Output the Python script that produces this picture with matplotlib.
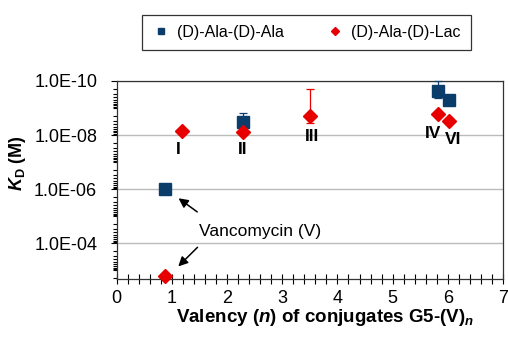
import matplotlib
matplotlib.use("Agg")
import matplotlib.pyplot as plt
from matplotlib.ticker import FixedLocator, FixedFormatter, LogLocator, MultipleLocator, NullFormatter

plt.rcParams['font.family'] = ['Liberation Sans', 'DejaVu Sans']
plt.rcParams['mathtext.fontset'] = 'custom'
plt.rcParams['mathtext.rm'] = 'Liberation Sans:bold'
plt.rcParams['mathtext.bf'] = 'Liberation Sans:bold'
plt.rcParams['mathtext.it'] = 'Liberation Sans:bold:italic'
plt.rcParams['mathtext.bfit'] = 'Liberation Sans:bold:italic'

# Data
ala_x = [0.88, 2.29, 5.82, 6.03]
ala_y = [1.0e-6, 3.2e-9, 2.3e-10, 5.1e-10]
ala_lo = [1.0e-6, 3.2e-9, 4.3e-10, 5.1e-10]
ala_hi = [1.0e-6, 1.5e-9, 1.0e-10, 5.1e-10]

lac_x = [0.88, 1.18, 2.29, 3.5, 5.82, 6.02]
lac_y = [1.6e-3, 7.0e-9, 7.6e-9, 1.95e-9, 1.6e-9, 3.1e-9]
lac_lo = [1.6e-3, 8.5e-9, 7.6e-9, 3.7e-9, 1.6e-9, 3.1e-9]
lac_hi = [1.6e-3, 5.8e-9, 7.6e-9, 2.0e-10, 1.6e-9, 3.1e-9]

roman_labels = ['I', 'II', 'III', 'IV', 'VI']
roman_x = [1.12, 2.28, 3.54, 5.74, 6.09]
roman_y = [3.5e-8, 3.5e-8, 1.15e-8, 8.7e-9, 1.5e-8]

y_ticks = [1e-10, 1e-8, 1e-6, 1e-4]
y_ticklabels = ['1.0E-10', '1.0E-08', '1.0E-06', '1.0E-04']
x_ticks = [0, 1, 2, 3, 4, 5, 6, 7]

navy = '#0B3D6B'
red = '#E80000'

fig = plt.figure(figsize=(5.08, 3.43), dpi=100)
ax = fig.add_axes([0.2297, 0.1875, 0.7605, 0.5765])

ax.set_yscale('log')
ax.set_xlim(0, 7)
ax.set_ylim(2.05e-3, 1e-10)

ax.yaxis.set_major_locator(FixedLocator(y_ticks))
ax.yaxis.set_major_formatter(FixedFormatter(y_ticklabels))
ax.yaxis.set_minor_locator(LogLocator(base=10, subs=range(1, 10), numticks=50))
ax.yaxis.set_minor_formatter(NullFormatter())
ax.xaxis.set_major_locator(FixedLocator(x_ticks))
ax.xaxis.set_minor_locator(MultipleLocator(0.2))

ax.grid(True, axis='y', which='major', color='#BBBBBB', linewidth=1.0)
ax.set_axisbelow(True)

ax.tick_params(axis='y', which='both', direction='out', labelsize=13, length=4, width=0.8, pad=10)
ax.tick_params(axis='y', which='minor', length=3)
ax.tick_params(axis='x', which='both', direction='inout', labelsize=13, length=7, width=0.8)
ax.tick_params(axis='x', which='major', pad=5)

for sp in ax.spines.values():
    sp.set_linewidth(0.9)
    sp.set_color('#333333')

yerr_ala = [[y - lo if lo < y else 0 for y, lo in zip(ala_y, ala_hi)],
            [hi - y if hi > y else 0 for y, hi in zip(ala_y, ala_lo)]]
yerr_lac = [[y - lo if lo < y else 0 for y, lo in zip(lac_y, lac_hi)],
            [hi - y if hi > y else 0 for y, hi in zip(lac_y, lac_lo)]]

ax.errorbar(ala_x, ala_y, yerr=yerr_ala, fmt='s', color=navy, ecolor=navy,
            markersize=8.5, elinewidth=0.9, capsize=3, capthick=0.9,
            label='(D)-Ala-(D)-Ala', zorder=3, clip_on=False)
ax.errorbar(lac_x, lac_y, yerr=yerr_lac, fmt='D', color=red, ecolor=red,
            markersize=7.5, elinewidth=0.9, capsize=3, capthick=0.9,
            label='(D)-Ala-(D)-Lac', zorder=4, clip_on=False)

for t, x, y in zip(roman_labels, roman_x, roman_y):
    ax.text(x, y, t, fontsize=12.5, fontweight='bold', ha='center', va='center')

ax.annotate('', xy=(ala_x[0] + 0.2, 1.9e-6), xytext=(1.5, 8.0e-6),
            arrowprops=dict(arrowstyle='-|>', color='black', lw=1.1, mutation_scale=14))
ax.annotate('', xy=(lac_x[0] + 0.2, 8.5e-4), xytext=(1.5, 1.2e-4),
            arrowprops=dict(arrowstyle='-|>', color='black', lw=1.1, mutation_scale=14))
ax.text(2.6, 3.6e-5, 'Vancomycin (V)', fontsize=12.5, ha='center', va='center')

ax.set_xlabel(r'Valency ($\mathbfit{n}$) of conjugates G5-(V)$_{\mathbfit{n}}$',
              fontsize=13.5, fontweight='bold', labelpad=0)
ax.xaxis.label.set_x(0.54)
fig.text(0.034, 1 - 163 / 343, r'$\mathbfit{K}_{\mathbf{D}}$ (M)', rotation=90,
         fontsize=13, fontweight='bold', ha='center', va='center')

handles, labels = ax.get_legend_handles_labels()
handles = [h[0] for h in handles]
leg = fig.legend(handles, labels, loc='center', bbox_to_anchor=(306.5 / 508, 1 - 32.5 / 343),
                 ncol=2, fontsize=11.5, frameon=True, fancybox=False, edgecolor='black',
                 columnspacing=2.7, handletextpad=0.5, handlelength=1.0, borderpad=0.65,
                 markerscale=0.55)
leg.get_frame().set_linewidth(0.9)

fig.savefig('out.png', dpi=100)
